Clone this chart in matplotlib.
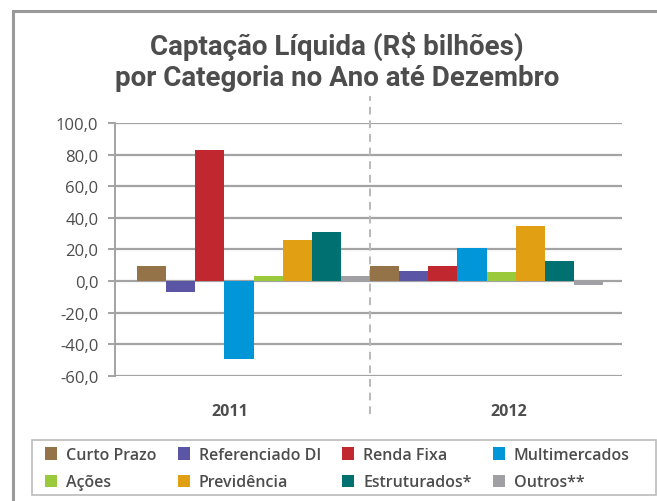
import matplotlib.pyplot as plt
import matplotlib.patches as mpatches

categories = ['Curto Prazo', 'Referenciado DI', 'Renda Fixa', 'Multimercados',
              'Ações', 'Previdência', 'Estruturados*', 'Outros**']
years = ['2011', '2012']
values_2011 = [9.5, -6.9, 83.0, -49.7, 3.0, 25.7, 31.3, 3.0]
values_2012 = [9.2, 6.1, 9.2, 20.6, 5.5, 34.5, 12.4, -2.5]
colors = ['#957349', '#5b55a5', '#c1272f', '#0096d8',
          '#9ac93b', '#e1a013', '#007070', '#a0a0a4']
yticks = [-60, -40, -20, 0, 20, 40, 60, 80, 100]

TXT = '#4d4d4d'
GRID = '#a3a3a3'
plt.rcParams['font.family'] = ['Open Sans', 'DejaVu Sans']

fig = plt.figure(figsize=(6.57, 5.02), dpi=100)
W, H = 657.0, 502.0
ax = fig.add_axes([115 / W, 1 - 376.7 / H, (622 - 115) / W, (376.7 - 124) / H])

ncat = len(categories)
for j, vals in enumerate([values_2011, values_2012]):
    for i, v in enumerate(vals):
        ax.bar(j * ncat + i, v, width=1.0, align='edge', color=colors[i],
               zorder=3, label=categories[i] if j == 0 else None)

ax.set_xlim(-0.756, 16.65)
ax.set_ylim(-60, 100)
ax.set_yticks(yticks)
ax.yaxis.set_major_formatter(plt.FuncFormatter(lambda v, p: ('%.1f' % v).replace('.', ',')))
ax.grid(axis='y', color=GRID, linewidth=1.6, zorder=1)
ax.tick_params(axis='y', colors=GRID, labelcolor=TXT, labelsize=12, length=5,
               width=1.4, pad=7)
for s in ['top', 'right', 'bottom']:
    ax.spines[s].set_visible(False)
ax.spines['left'].set_color(GRID)
ax.spines['left'].set_linewidth(1.4)

# year labels
ax.set_xticks([3.2, 12.75])
ax.set_xticklabels(years, fontsize=11.5, fontweight='bold', color=TXT)
ax.tick_params(axis='x', length=0, pad=20)

# dashed divider between years
ax.axvline(ncat, ymin=-0.152, ymax=1.107, color='#b9b9b9', linewidth=1.4,
           linestyle=(0, (4, 3)), clip_on=False, zorder=2)

for k, line in enumerate(['Captação Líquida (R$ bilhões)', 'por Categoria no Ano até Dezembro']):
    fig.text(337 / W, 1 - (46 + 33 * k) / H, line, ha='center', va='center',
             fontsize=20, fontweight='bold', color=TXT,
             family=['Roboto', 'DejaVu Sans'])

# outer frame
fig.add_artist(mpatches.Rectangle((12.5 / W, -0.2), 1.2, 1 - 11.5 / H + 0.2,
                                  transform=fig.transFigure, fill=False,
                                  edgecolor='#999999', linewidth=2.2))
# legend frame
fig.add_artist(mpatches.Rectangle((32 / W, 1 - 496 / H), 624 / W, 55 / H,
                                  transform=fig.transFigure, fill=False,
                                  edgecolor='#bbbbbb', linewidth=1.2))

handles, labels = ax.get_legend_handles_labels()
order = [0, 4, 1, 5, 2, 6, 3, 7]
leg = fig.legend([handles[k] for k in order], [labels[k] for k in order],
                 loc='upper left', bbox_to_anchor=(45 / W, 1 - 448 / H),
                 ncol=4, frameon=False, borderpad=0, borderaxespad=0,
                 prop={'size': 11.5, 'weight': 'semibold'},
                 handlelength=0.75, handleheight=0.8, handletextpad=0.55,
                 columnspacing=1.35, labelspacing=0.7)
for t in leg.get_texts():
    t.set_color(TXT)

fig.savefig('out.png', dpi=100)
